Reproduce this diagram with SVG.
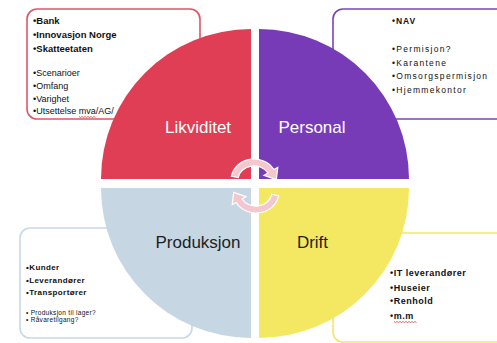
<svg xmlns="http://www.w3.org/2000/svg" width="497" height="343" viewBox="0 0 497 343">
<defs>
<style>
.box{fill:#ffffff;stroke-width:1.6}
.t{font-family:"Liberation Sans",Arial,sans-serif;fill:#111111}
.b{font-weight:bold}
.lbl{font-family:"Liberation Sans",Arial,sans-serif;font-size:17px;text-anchor:middle}
.arr{fill:#f3c7cd;stroke:#ffffff;stroke-width:1.2}
.wave{fill:none;stroke:#e02020;stroke-width:0.7}
</style>
<path id="arc" d="M -22.65,-3.65 A 23 21 0 0 1 19.9,-10.5 L 23.8,-12.75 L 22.3,-0.35 L 9.96,-4.75 L 13.9,-7 A 16 14 0 0 0 -15.76,-2.43 Z"/>
</defs>
<rect width="497" height="343" fill="#ffffff"/>

<g id="box-likviditet">
<rect class="box" x="27" y="9" width="173" height="110" rx="10" stroke="#e05565"/>
<g class="t b" font-size="9.5">
<text x="33" y="24">•Bank</text>
<text x="33" y="38">•Innovasjon Norge</text>
<text x="33" y="52">•Skatteetaten</text>
</g>
<g class="t" font-size="9">
<text x="33" y="76">•Scenarioer</text>
<text x="33" y="89">•Omfang</text>
<text x="33" y="101.5">•Varighet</text>
<text x="33" y="114">•Utsettelse mva/AG/</text>
</g>
<path class="wave" d="M79,116.5 l1.5,1 l1.5,-1 l1.5,1 l1.5,-1 l1.5,1 l1.5,-1 l1.5,1 l1.5,-1 l1.5,1 l1.5,-1 l1.5,1"/>
</g>

<g id="box-personal">
<rect class="box" x="333" y="9" width="180" height="110" rx="10" stroke="#7b45b9"/>
<text class="t b" x="392" y="24" font-size="8.5" letter-spacing="1">•NAV</text>
<g class="t" font-size="8.5" letter-spacing="1.3">
<text x="392" y="52.3">•Permisjon?</text>
<text x="392" y="65.7">•Karantene</text>
<text x="392" y="79.3">•Omsorgspermisjon</text>
<text x="392" y="92.7">•Hjemmekontor</text>
</g>
</g>

<g id="box-produksjon">
<rect class="box" x="20" y="228" width="172" height="110" rx="10" stroke="#c8d8e8"/>
<g class="t b" font-size="8" letter-spacing="0.4">
<text x="26" y="270">•Kunder</text>
<text x="26" y="282.7">•Leverandører</text>
<text x="26" y="295">•Transportører</text>
</g>
<g class="t" font-size="6.5" letter-spacing="0.3">
<text x="26" y="315">• Produksjon til lager?</text>
<text x="26" y="321.7">• Råvaretilgang?</text>
</g>
</g>

<g id="box-drift">
<rect class="box" x="333" y="233" width="180" height="109" rx="10" stroke="#f2e66a"/>
<g class="t b" font-size="9" letter-spacing="0.5">
<text x="390" y="276">•IT leverandører</text>
<text x="390" y="291">•Huseier</text>
<text x="390" y="303.7">•Renhold</text>
<text x="390" y="319">•m.m</text>
</g>
<path class="wave" d="M394,321.5 l1.5,1 l1.5,-1 l1.5,1 l1.5,-1 l1.5,1 l1.5,-1 l1.5,1 l1.5,-1 l1.5,1 l1.5,-1 l1.5,1 l1.5,-1 l1.5,1 l1.5,-1 l1.5,1"/>
</g>

<g id="quad-likviditet">
<path d="M251,179 L101,179 A150 150 0 0 1 251,29 Z" fill="#e03e54"/>
<text class="lbl" x="198" y="133" fill="#ffffff">Likviditet</text>
</g>
<g id="quad-personal">
<path d="M259,179 L259,29 A150 150 0 0 1 409,179 Z" fill="#783bb8"/>
<text class="lbl" x="312" y="133" fill="#ffffff">Personal</text>
</g>
<g id="quad-produksjon">
<path d="M251,188 L251,338 A150 150 0 0 1 101,188 Z" fill="#c6d6e3"/>
<text class="lbl" x="198" y="247.5" fill="#1e1e1e">Produksjon</text>
</g>
<g id="quad-drift">
<path d="M259,188 L409,188 A150 150 0 0 1 259,338 Z" fill="#f4e862"/>
<text class="lbl" x="312.5" y="247.5" fill="#1e1e1e">Drift</text>
</g>

<g id="connectors">
<use href="#arc" class="arr" transform="translate(254,180)"/>
<use href="#arc" class="arr" transform="translate(256,192) rotate(180)"/>
</g>
</svg>
